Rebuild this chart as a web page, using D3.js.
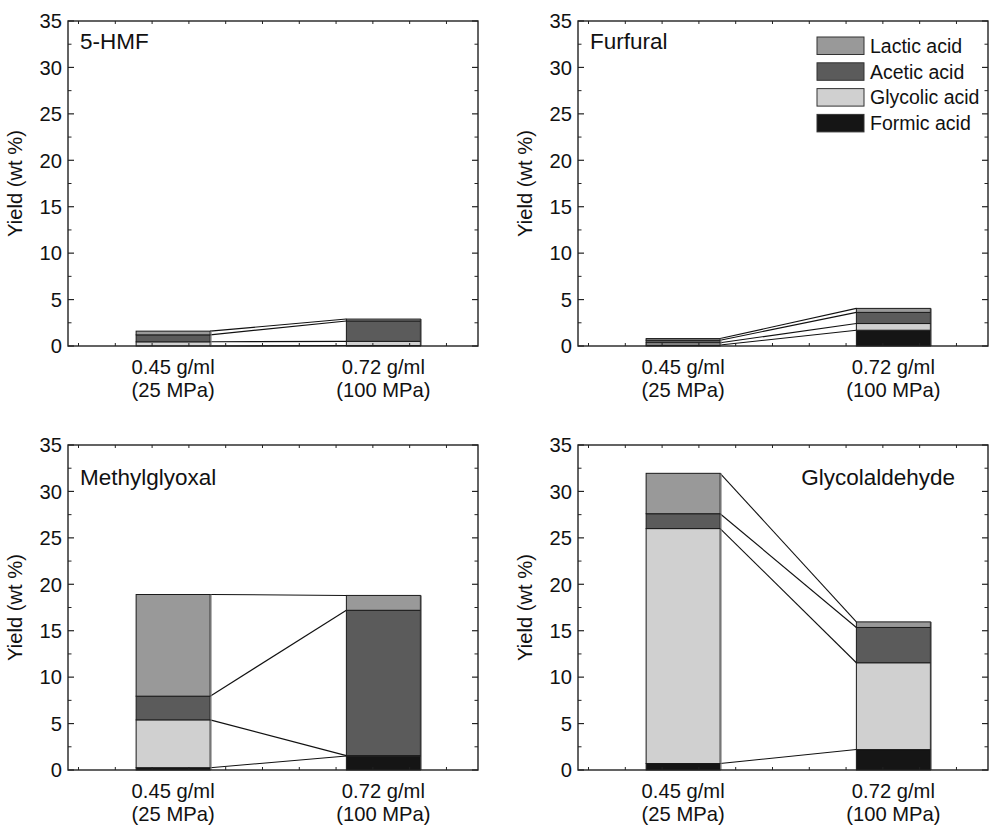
<!DOCTYPE html>
<html>
<head>
<meta charset="utf-8">
<script src="https://cdn.jsdelivr.net/npm/d3@7"></script>
<style>
  html, body { margin: 0; padding: 0; background: #fff; }
  svg text { font-family: "Liberation Sans", Arial, Helvetica, sans-serif; fill: #111; }
</style>
</head>
<body>
<svg id="chart" width="991" height="826"></svg>
<script>
// ---------- data ----------
const panelTitles = ["5-HMF", "Furfural", "Methylglyoxal", "Glycolaldehyde"];
const catLine1 = ["0.45 g/ml", "0.72 g/ml"];
const catLine2 = ["(25 MPa)", "(100 MPa)"];
const seriesNames = ["Formic acid", "Glycolic acid", "Acetic acid", "Lactic acid"]; // bottom -> top
// values per panel: [0.45 g/ml, 0.72 g/ml]
const formic   = [[0.0, 0.05], [0.1, 1.7],  [0.25, 1.5],  [0.7, 2.2]];
const glycolic = [[0.45, 0.45], [0.25, 0.72], [5.15, 0.05], [25.3, 9.35]];
const acetic   = [[0.75, 2.2], [0.27, 1.2], [2.55, 15.65], [1.6, 3.8]];
const lactic   = [[0.4, 0.2],  [0.18, 0.43], [10.95, 1.6], [4.35, 0.6]];
const yTicks = [0, 5, 10, 15, 20, 25, 30, 35];
const legendOrder = ["Lactic acid", "Acetic acid", "Glycolic acid", "Formic acid"];

// ---------- styles ----------
const colors = {
  "Formic acid": "#151515",
  "Glycolic acid": "#d0d0d0",
  "Acetic acid": "#5b5b5b",
  "Lactic acid": "#999999"
};
const seriesData = { "Formic acid": formic, "Glycolic acid": glycolic, "Acetic acid": acetic, "Lactic acid": lactic };

const svg = d3.select("#chart");
svg.append("rect").attr("width", 991).attr("height", 826).attr("fill", "#fff");

const W = 410, H = 325;
const origins = [[68, 21], [578, 21], [68, 445], [578, 445]];
const barW = 0.352;
const fs = 20.2;

panelTitles.forEach((title, p) => {
  const [ox, oy] = origins[p];
  const g = svg.append("g").attr("transform", `translate(${ox},${oy})`);
  const x = d3.scaleLinear().domain([-0.5, 1.45]).range([0, W]);
  const y = d3.scaleLinear().domain([0, 35]).range([H, 0]);

  // stacked data
  const rows = [0, 1].map(c => {
    const r = { cat: c };
    seriesNames.forEach(s => r[s] = seriesData[s][p][c]);
    return r;
  });
  const stacked = d3.stack().keys(seriesNames)(rows);

  // connector lines (between stack boundaries)
  stacked.forEach(layer => {
    g.append("line")
      .attr("x1", x(0 + barW / 2)).attr("y1", y(layer[0][1]))
      .attr("x2", x(1 - barW / 2)).attr("y2", y(layer[1][1]))
      .attr("stroke", "#111").attr("stroke-width", 1.1);
  });

  // bars
  stacked.forEach(layer => {
    g.selectAll(null).data(layer).enter().append("rect")
      .attr("x", d => x(d.data.cat - barW / 2))
      .attr("width", d => x(d.data.cat + barW / 2) - x(d.data.cat - barW / 2))
      .attr("y", d => y(d[1]))
      .attr("height", d => Math.max(0, y(d[0]) - y(d[1])))
      .attr("fill", colors[layer.key])
      .attr("stroke", "#1a1a1a").attr("stroke-width", 1);
  });
  // subtle grey shade on right edge of each bar
  rows.forEach(r => {
    const top = d3.sum(seriesNames, s => r[s]);
    g.append("line")
      .attr("x1", x(r.cat + barW / 2) + 1).attr("x2", x(r.cat + barW / 2) + 1)
      .attr("y1", y(top)).attr("y2", y(0))
      .attr("stroke", "#888").attr("stroke-width", 1);
  });

  // frame
  g.append("rect").attr("x", 0).attr("y", 0).attr("width", W).attr("height", H)
    .attr("fill", "none").attr("stroke", "#222").attr("stroke-width", 1.4);

  // y ticks (major + minor), inward on left & right
  const yMinor = d3.range(2.5, 35, 5);
  yTicks.forEach(t => {
    g.append("line").attr("x1", 0).attr("x2", 6).attr("y1", y(t)).attr("y2", y(t)).attr("stroke", "#222").attr("stroke-width", 1.2);
    g.append("line").attr("x1", W).attr("x2", W - 6).attr("y1", y(t)).attr("y2", y(t)).attr("stroke", "#222").attr("stroke-width", 1.2);
    g.append("text").attr("x", -6).attr("y", y(t)).attr("dy", "0.36em")
      .attr("text-anchor", "end").attr("font-size", fs).text(t);
  });
  yMinor.forEach(t => {
    g.append("line").attr("x1", 0).attr("x2", 3.5).attr("y1", y(t)).attr("y2", y(t)).attr("stroke", "#222").attr("stroke-width", 1);
    g.append("line").attr("x1", W).attr("x2", W - 3.5).attr("y1", y(t)).attr("y2", y(t)).attr("stroke", "#222").attr("stroke-width", 1);
  });

  // x minor ticks top & bottom
  const xMinor = d3.range(0, 11).map(k => -0.45 + k * 0.175);
  xMinor.forEach(t => {
    g.append("line").attr("x1", x(t)).attr("x2", x(t)).attr("y1", H).attr("y2", H - 3).attr("stroke", "#222").attr("stroke-width", 1);
    g.append("line").attr("x1", x(t)).attr("x2", x(t)).attr("y1", 0).attr("y2", 3).attr("stroke", "#222").attr("stroke-width", 1);
  });

  // x category labels
  [0, 1].forEach(c => {
    g.append("text").attr("x", x(c)).attr("y", H + 28).attr("text-anchor", "middle")
      .attr("font-size", fs).text(catLine1[c]);
    g.append("text").attr("x", x(c)).attr("y", H + 51).attr("text-anchor", "middle")
      .attr("font-size", fs).text(catLine2[c]);
  });

  // y title
  g.append("text")
    .attr("transform", `translate(${-46},${H / 2}) rotate(-90)`)
    .attr("text-anchor", "middle").attr("font-size", fs).text("Yield (wt %)");

  // panel title
  if (p === 3) {
    g.append("text").attr("x", W - 33).attr("y", 40).attr("text-anchor", "end")
      .attr("font-size", 22.5).text(title);
  } else {
    g.append("text").attr("x", 12).attr("y", p < 2 ? 28 : 40).attr("text-anchor", "start")
      .attr("font-size", 22.5).text(title);
  }

  // legend in Furfural panel
  if (p === 1) {
    const lg = g.append("g").attr("transform", `translate(${239},${16})`);
    legendOrder.forEach((name, i) => {
      lg.append("rect").attr("x", 0).attr("y", i * 25.8).attr("width", 47).attr("height", 17.5)
        .attr("fill", colors[name]).attr("stroke", "#333").attr("stroke-width", 1);
      lg.append("text").attr("x", 53).attr("y", i * 25.8 + 8.75).attr("dy", "0.36em")
        .attr("font-size", 19.5).text(name);
    });
  }
});
</script>
</body>
</html>
